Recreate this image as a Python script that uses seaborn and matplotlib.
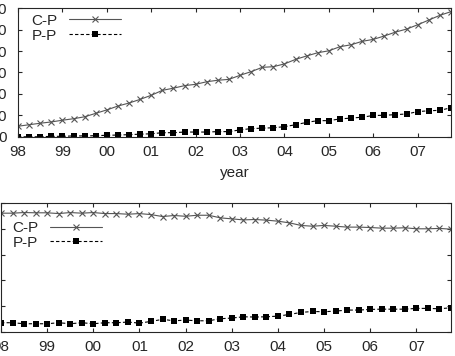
"""Dos paneles: conteos C-P / P-P por trimestre y su fraccion."""

import matplotlib

matplotlib.use("Agg")
import matplotlib.pyplot as plt
import numpy as np
import pandas as pd
import seaborn as sns

sns.set_style("ticks")
plt.rcParams["font.family"] = ["Liberation Sans", "DejaVu Sans"]

# trimestres desde 1998.00 hasta 2007.75
QUARTERS = [1998 + 0.25 * i for i in range(40)]

TOP_CP = [50, 57, 64, 70, 78, 85, 94, 110, 126, 144,
          158, 175, 194, 217, 227, 239, 245, 257, 264, 268,
          287, 304, 324, 327, 340, 361, 377, 392, 401, 420,
          429, 445, 454, 470, 488, 502, 522, 544, 566, 583]
TOP_PP = [1, 1, 1, 3, 3, 5, 5, 6, 8, 9,
          11, 13, 15, 20, 20, 23, 23, 23, 25, 25,
          33, 39, 41, 43, 48, 57, 68, 76, 76, 84,
          88, 92, 100, 101, 104, 107, 118, 122, 124, 136]

BOT_CP = [0.921, 0.921, 0.926, 0.924, 0.924, 0.918, 0.926, 0.921, 0.926, 0.918,
          0.918, 0.913, 0.918, 0.910, 0.895, 0.903, 0.897, 0.905, 0.905, 0.885,
          0.877, 0.869, 0.872, 0.867, 0.859, 0.846, 0.826, 0.820, 0.826, 0.820,
          0.813, 0.813, 0.810, 0.805, 0.805, 0.808, 0.800, 0.800, 0.803, 0.797]
BOT_PP = [0.072, 0.072, 0.064, 0.064, 0.064, 0.072, 0.064, 0.072, 0.064, 0.072,
          0.072, 0.077, 0.069, 0.082, 0.098, 0.087, 0.092, 0.087, 0.087, 0.103,
          0.108, 0.118, 0.116, 0.118, 0.123, 0.136, 0.152, 0.159, 0.157, 0.162,
          0.170, 0.170, 0.175, 0.177, 0.177, 0.177, 0.183, 0.183, 0.180, 0.188]

YEARS = list(range(1998, 2008))
YEAR_LABELS = ["98", "99", "00", "01", "02", "03", "04", "05", "06", "07"]
TOP_YTICKS = [0, 100, 200, 300, 400, 500, 600]
BOT_YTICKS = [0, 0.2, 0.4, 0.6, 0.8, 1.0]

FS = 11

fig = plt.figure(figsize=(4.56, 3.56), dpi=100)
ax1 = fig.add_axes([0.0395, 0.6152, 0.9495, 0.3623])
ax2 = fig.add_axes([0.0022, 0.0674, 0.9868, 0.3624])


def draw(ax, cp, pp):
    df = pd.DataFrame({"year": QUARTERS, "C-P": cp, "P-P": pp})
    sns.lineplot(data=df, x="year", y="C-P", ax=ax, color="#555555", lw=0.8,
                 marker="x", markersize=4, markeredgewidth=0.8,
                 markeredgecolor="#555555", label="C-P")
    sns.lineplot(data=df, x="year", y="P-P", ax=ax, color="black", lw=0.8,
                 ls=(0, (3, 2)), marker="s", markersize=3.8,
                 markeredgewidth=0, markerfacecolor="black", label="P-P")
    ax.set_xlim(1998, 2007.75)
    ax.set_xticks(YEARS)
    ax.set_xticklabels(YEAR_LABELS)
    ax.tick_params(direction="in", length=3, top=True, right=True,
                   labelsize=FS, width=0.8)
    ax.tick_params(axis="x", pad=6)
    ax.tick_params(axis="y", pad=8)
    for s in ax.spines.values():
        s.set_linewidth(0.8)
    ax.set_ylabel("")


def legend(ax, anchor):
    ax.legend(loc="upper left", bbox_to_anchor=anchor, frameon=False,
              markerfirst=False, fontsize=FS, handlelength=3.4,
              handletextpad=0.8, labelspacing=0.05, borderpad=0,
              borderaxespad=0)


draw(ax1, TOP_CP, TOP_PP)
ax1.set_ylim(0, 600)
ax1.set_yticks(TOP_YTICKS)
ax1.set_xlabel("year", fontsize=FS, labelpad=5)
legend(ax1, (0.03, 0.955))

draw(ax2, BOT_CP, BOT_PP)
ax2.set_ylim(0, 1)
ax2.set_yticks(BOT_YTICKS)
ax2.set_yticklabels([])
ax2.set_xlabel("")
legend(ax2, (0.0244, 0.86))

fig.savefig("out.png", dpi=100)
